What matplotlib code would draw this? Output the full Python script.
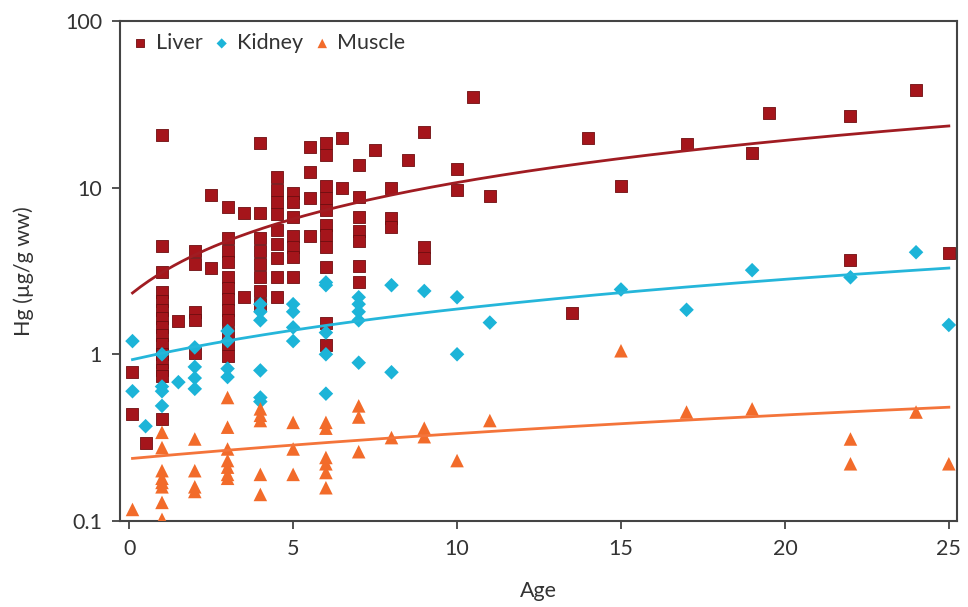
import numpy as np
import matplotlib.pyplot as plt

plt.rcParams['font.family'] = ['Lato', 'DejaVu Sans']

# Liver: (age, Hg in ug/g ww)
liver_age = [0.1, 0.1, 0.5,
             1, 1, 1, 1, 1, 1, 1, 1, 1, 1, 1, 1, 1, 1, 1,
             1.5,
             2, 2, 2, 2, 2,
             2.5, 2.5,
             3, 3, 3, 3, 3, 3, 3, 3, 3, 3, 3, 3,
             3.5, 3.5,
             4, 4, 4, 4, 4, 4, 4, 4,
             4.5, 4.5, 4.5, 4.5, 4.5, 4.5, 4.5, 4.5, 4.5,
             5, 5, 5, 5, 5, 5, 5,
             5.5, 5.5, 5.5, 5.5,
             6, 6, 6, 6, 6, 6, 6, 6, 6, 6, 6,
             6.5, 6.5,
             7, 7, 7, 7, 7, 7, 7,
             7.5,
             8, 8, 8,
             8.5,
             9, 9, 9,
             10, 10, 10.5, 11, 13.5, 14, 15, 17, 19, 19.5, 22, 22, 24, 25]
liver_hg = [0.78, 0.44, 0.295,
            20.7, 4.5, 3.1, 2.35, 2.1, 1.85, 1.65, 1.45, 1.3, 1.15, 1.0, 0.9, 0.8, 0.74, 0.41,
            1.58,
            4.2, 3.5, 1.8, 1.6, 1.02,
            9.0, 3.3,
            7.7, 5.0, 4.2, 3.6, 2.9, 2.5, 2.15, 1.85, 1.6, 1.35, 1.15, 0.97,
            7.1, 2.2,
            18.6, 7.1, 5.0, 4.2, 3.5, 2.9, 2.4, 2.0,
            11.6, 9.7, 8.2, 7.0, 5.6, 4.6, 3.8, 2.9, 2.2,
            9.3, 8.2, 6.7, 5.1, 4.4, 3.85, 2.9,
            17.5, 12.4, 8.7, 5.1,
            18.5, 15.8, 10.2, 8.7, 7.4, 6.0, 5.2, 4.4, 3.35, 1.55, 1.14,
            19.9, 10.0,
            13.7, 8.8, 6.7, 5.5, 4.8, 3.4, 2.7,
            16.8,
            10.0, 6.6, 5.8,
            14.6,
            21.6, 4.4, 3.8,
            13.0, 9.7, 35.0, 8.9, 1.76, 20.0, 10.3, 18.3, 16.2, 28.0, 27.0, 3.7, 38.6, 4.05]

kidney_age = [0.1, 0.1, 0.5,
              1, 1, 1, 1,
              1.5,
              2, 2, 2, 2,
              3, 3, 3, 3,
              4, 4, 4, 4, 4, 4,
              5, 5, 5, 5,
              6, 6, 6, 6, 6,
              7, 7, 7, 7, 7,
              8, 8, 9, 10, 10, 11, 15, 17, 19, 22, 24, 25]
kidney_hg = [1.2, 0.6, 0.37,
             1.0, 0.64, 0.6, 0.49,
             0.68,
             1.1, 0.84, 0.72, 0.62,
             1.38, 1.2, 0.82, 0.73,
             2.0, 1.8, 1.6, 0.8, 0.55, 0.52,
             2.0, 1.8, 1.45, 1.2,
             2.7, 2.6, 1.35, 1.0, 0.58,
             2.2, 2.0, 1.8, 1.6, 0.89,
             2.6, 0.78, 2.4, 2.2, 1.0, 1.55, 2.45, 1.85, 3.2, 2.9, 4.1, 1.5]

muscle_age = [0.1,
              1, 1, 1, 1, 1, 1, 1, 1,
              2, 2, 2, 2,
              3, 3, 3, 3, 3, 3, 3,
              4, 4, 4, 4, 4,
              5, 5, 5,
              6, 6, 6, 6, 6, 6,
              7, 7, 7,
              8, 9, 9, 10, 11, 15, 17, 19, 22, 22, 24, 25]
muscle_hg = [0.117,
             0.34, 0.275, 0.2, 0.18, 0.17, 0.16, 0.129, 0.102,
             0.31, 0.2, 0.16, 0.15,
             0.55, 0.365, 0.27, 0.23, 0.21, 0.19, 0.18,
             0.47, 0.43, 0.40, 0.19, 0.144,
             0.39, 0.27, 0.19,
             0.39, 0.36, 0.24, 0.22, 0.195, 0.158,
             0.49, 0.42, 0.26,
             0.316, 0.36, 0.32, 0.23, 0.4, 1.05, 0.45, 0.47, 0.31, 0.22, 0.45, 0.22]

# linear trend lines (intercept, slope)
liver_trend = (2.25, 0.85)
kidney_trend = (0.92, 0.095)
muscle_trend = (0.236, 0.0098)

y_ticks = [0.1, 1, 10, 100]
y_tick_labels = ['0.1', '1', '10', '100']
x_ticks = [0, 5, 10, 15, 20, 25]

liver_col = '#a5151b'
kidney_col = '#1cb4d8'
muscle_col = '#f26b2a'

fig = plt.figure(figsize=(9.68, 6.07), dpi=100)
ax = fig.add_axes([0.124, 0.142, 0.865, 0.823])

ax.scatter(liver_age, liver_hg, marker='s', s=72, c=liver_col,
           edgecolors='#6e0d10', linewidths=0.6, zorder=3, label='Liver')
ax.scatter(kidney_age, kidney_hg, marker='D', s=55, c=kidney_col,
           edgecolors='none', zorder=3, label='Kidney')
ax.scatter(muscle_age, muscle_hg, marker='^', s=95, c=muscle_col,
           edgecolors='none', zorder=3, label='Muscle')

xx = np.linspace(0.1, 25, 200)
ax.plot(xx, liver_trend[0] + liver_trend[1] * xx, color='#a01c22', lw=2, zorder=4)
ax.plot(xx, kidney_trend[0] + kidney_trend[1] * xx, color='#25b6da', lw=2, zorder=4)
ax.plot(xx, muscle_trend[0] + muscle_trend[1] * xx, color='#f4743a', lw=2, zorder=4)

ax.set_yscale('log')
ax.set_ylim(0.1, 100)
ax.set_xlim(-0.28, 25.26)
ax.set_yticks(y_ticks)
ax.set_yticklabels(y_tick_labels)
ax.yaxis.set_minor_locator(plt.NullLocator())
ax.set_xticks(x_ticks)

for sp in ax.spines.values():
    sp.set_color('#444444')
    sp.set_linewidth(1.5)
ax.tick_params(axis='both', direction='out', length=6, width=1.3,
               color='#444444', labelsize=15.5, labelcolor='#333333', pad=7)

ax.set_xlabel('Age', fontsize=15.5, color='#333333', labelpad=16)
ax.set_ylabel('Hg (µg/g ww)', fontsize=15.5, color='#333333', labelpad=22)

leg = ax.legend(loc='upper left', ncol=3, frameon=False, fontsize=15.5,
                handlelength=0.8, handletextpad=0.3, columnspacing=0.5,
                markerscale=0.7, borderaxespad=0.25, borderpad=0.3,
                labelcolor='#333333')

fig.savefig('out.png', dpi=100)
